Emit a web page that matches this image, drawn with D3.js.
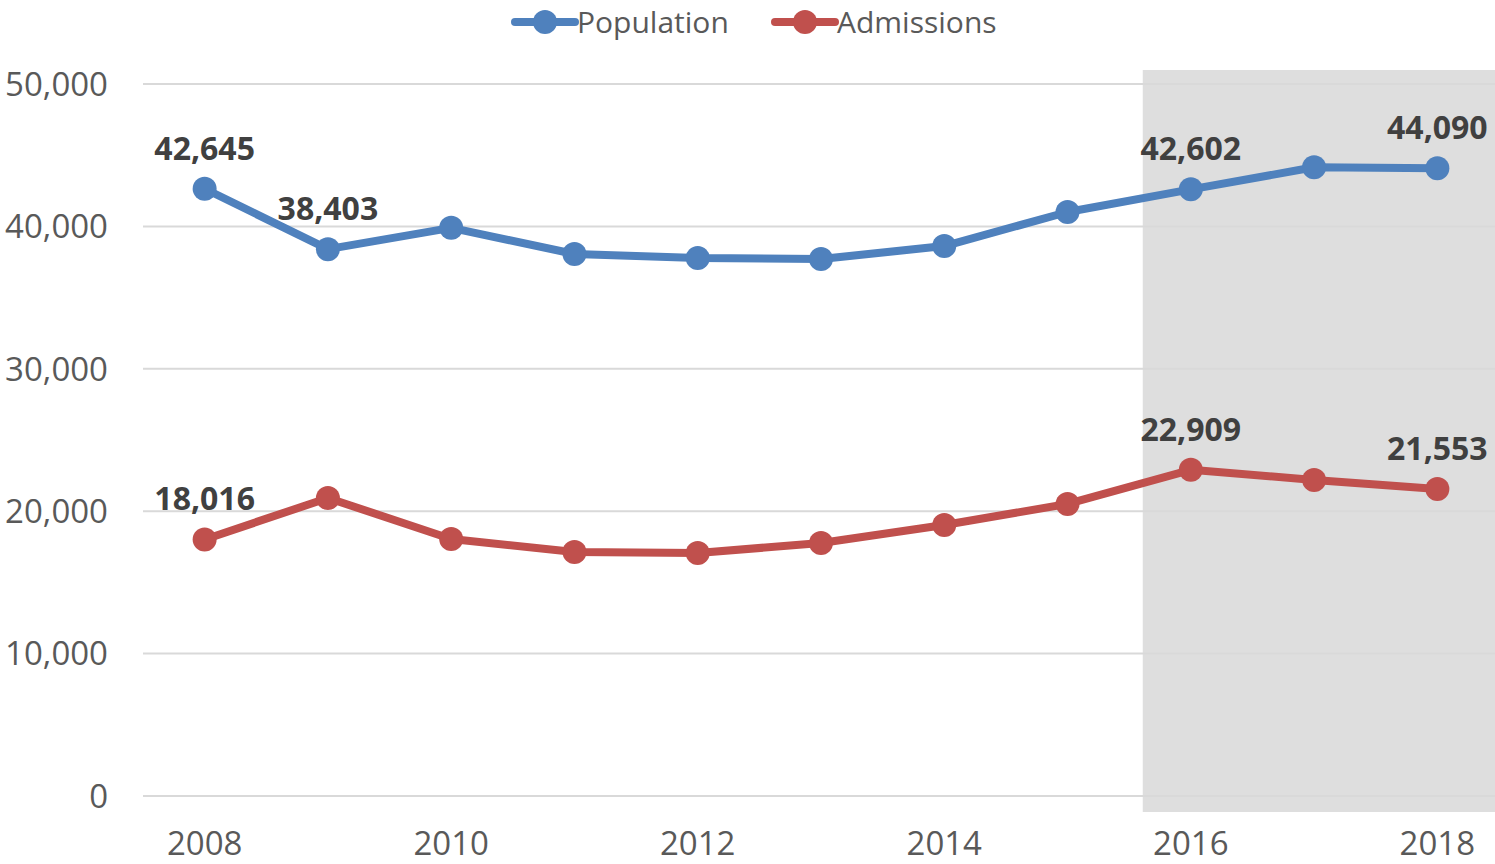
<!DOCTYPE html>
<html lang="en">
<head>
<meta charset="UTF-8">
<title>Population and Admissions</title>
<script src="https://d3js.org/d3.v7.min.js"></script>
<style>
    body { margin: 0; background: #ffffff; font-family: "Open Sans", "Noto Sans", Arial, sans-serif; }
    .tick-label { fill: #595959; font-size: 33px; }
    .data-label { fill: #404040; font-size: 32px; font-weight: bold; }
    .legend-label { fill: #595959; font-size: 30px; }
</style>
</head>
<body>
<div id="chart"></div>
<script>
    // Chart data
    const years = [2008, 2009, 2010, 2011, 2012, 2013, 2014, 2015, 2016, 2017, 2018];
    const population = [42645, 38403, 39900, 38060, 37780, 37710, 38620, 41010, 42602, 44150, 44090];
    const admissions = [18016, 20930, 18050, 17130, 17060, 17770, 19030, 20510, 22909, 22190, 21553];
    const yTicks = [0, 10000, 20000, 30000, 40000, 50000];
    const shadedFrom = 2016;
    // which points carry a value label
    const popLabelYears = [2008, 2009, 2016, 2018];
    const admLabelYears = [2008, 2016, 2018];

    const W = 1495, H = 864;

    const svg = d3.select("#chart").append("svg")
        .attr("width", W)
        .attr("height", H);

    const x = d3.scaleBand()
        .domain(years)
        .range([143, 1499]);
    const cx = d => x(d) + x.bandwidth() / 2;

    const y = d3.scaleLinear()
        .domain([0, 50000])
        .range([796, 84]);

    // Shaded area (2016 onwards)
    const shadeX = cx(shadedFrom) - x.bandwidth() * 0.39;
    svg.append("rect")
        .attr("x", shadeX)
        .attr("y", y(50000) - 14)
        .attr("width", W - shadeX)
        .attr("height", y(0) - y(50000) + 30)
        .attr("fill", "#dedede");

    // Gridlines
    svg.selectAll(".grid")
        .data(yTicks)
        .enter()
        .append("line")
        .attr("x1", 143)
        .attr("x2", W)
        .attr("y1", d => y(d))
        .attr("y2", d => y(d))
        .attr("stroke", "#d9d9d9")
        .attr("stroke-width", 2);

    // Y labels
    svg.selectAll(".ylab")
        .data(yTicks)
        .enter()
        .append("text")
        .attr("class", "tick-label")
        .attr("x", 108)
        .attr("y", d => y(d))
        .attr("dy", "0.36em")
        .attr("text-anchor", "end")
        .text(d => d3.format(",")(d));

    // X labels (every other year)
    svg.selectAll(".xlab")
        .data(years.filter(d => d % 2 === 0))
        .enter()
        .append("text")
        .attr("class", "tick-label")
        .attr("x", d => cx(d))
        .attr("y", 855)
        .attr("text-anchor", "middle")
        .text(d => d);

    const series = [
        { name: "Population", values: population, color: "#4f81bd", labels: popLabelYears },
        { name: "Admissions", values: admissions, color: "#c0504d", labels: admLabelYears }
    ];

    const line = d3.line()
        .x((d, i) => cx(years[i]))
        .y(d => y(d));

    series.forEach(s => {
        svg.append("path")
            .datum(s.values)
            .attr("d", line)
            .attr("fill", "none")
            .attr("stroke", s.color)
            .attr("stroke-width", 8)
            .attr("stroke-linejoin", "round");

        svg.selectAll(null)
            .data(s.values)
            .enter()
            .append("circle")
            .attr("cx", (d, i) => cx(years[i]))
            .attr("cy", d => y(d))
            .attr("r", 12)
            .attr("fill", s.color);

        svg.selectAll(null)
            .data(s.values.map((v, i) => ({ year: years[i], v })).filter(d => s.labels.includes(d.year)))
            .enter()
            .append("text")
            .attr("class", "data-label")
            .attr("x", d => cx(d.year))
            .attr("y", d => y(d.v) - 29)
            .attr("text-anchor", "middle")
            .text(d => d3.format(",")(d.v));
    });

    // Legend
    const legendX = [515, 775];
    series.forEach((s, i) => {
        const g = svg.append("g").attr("transform", `translate(${legendX[i]}, 22)`);
        g.append("line")
            .attr("x1", 0).attr("x2", 60)
            .attr("stroke", s.color)
            .attr("stroke-width", 8)
            .attr("stroke-linecap", "round");
        g.append("circle")
            .attr("cx", 30)
            .attr("r", 12)
            .attr("fill", s.color);
        g.append("text")
            .attr("class", "legend-label")
            .attr("x", 62)
            .attr("dy", "0.36em")
            .text(s.name);
    });
</script>
</body>
</html>
